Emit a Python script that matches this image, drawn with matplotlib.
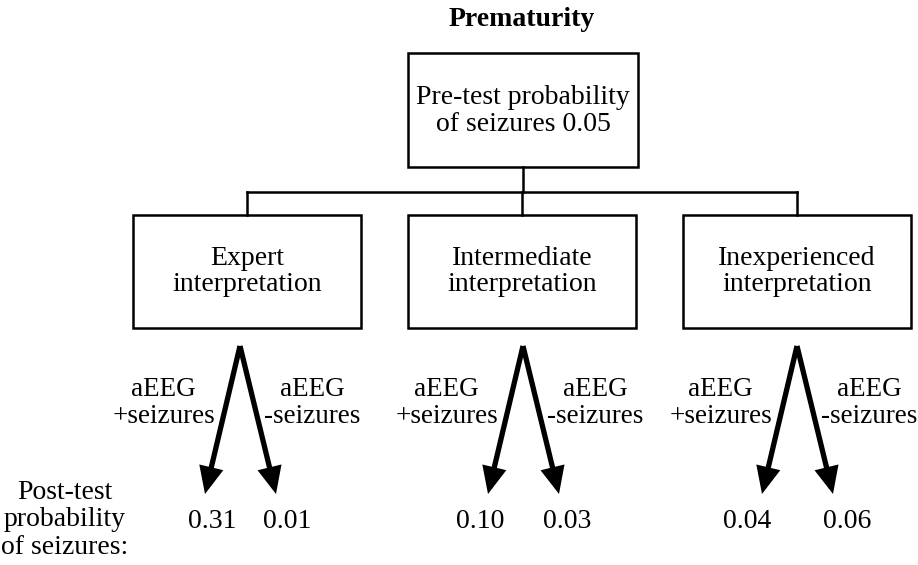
import matplotlib
matplotlib.use("Agg")
import matplotlib.pyplot as plt
from matplotlib.patches import Rectangle, FancyArrowPatch

# ---- data ----
title = "Prematurity"
pretest_label = "Pre-test probability\nof seizures"
pretest_prob = 0.05
levels = ["Expert\ninterpretation", "Intermediate\ninterpretation", "Inexperienced\ninterpretation"]
pos_label = "aEEG\n+seizures"
neg_label = "aEEG\n-seizures"
post_pos = [0.31, 0.10, 0.04]
post_neg = [0.01, 0.03, 0.06]
post_label = "Post-test\nprobability\nof seizures:"

# ---- layout (pixels) ----
W, H = 918, 565
box_cx = [247, 522, 797]
apex_x = [240, 523, 797]
val_off_pos = [-28, -43, -50]
val_off_neg = [47, 44, 50]

fig = plt.figure(figsize=(W / 100, H / 100), dpi=100)
ax = fig.add_axes([0, 0, 1, 1])
ax.set_xlim(0, W)
ax.set_ylim(H, 0)
ax.axis("off")

FONT = "Liberation Serif"
fs = 20
fs_lab = 19.5
lw = 1.8

ax.text(522, 19, title, ha="center", va="center", fontsize=fs, fontweight="bold", family=FONT)

# top box
top_cx, top_w, top_y0, top_y1 = 523, 230, 53, 167
ax.add_patch(Rectangle((top_cx - top_w / 2, top_y0), top_w, top_y1 - top_y0, fill=False, lw=lw, ec="black"))
ax.text(top_cx, (top_y0 + top_y1) / 2 + 1, f"{pretest_label} {pretest_prob:.2f}", ha="center", va="center",
        fontsize=fs, family=FONT, linespacing=1.1)

# connectors
box_w, box_y0, box_y1 = 228, 215, 328
hy = 192
ax.plot([top_cx, top_cx], [top_y1, hy], color="black", lw=lw)
ax.plot([box_cx[0], box_cx[-1]], [hy, hy], color="black", lw=lw)
for cx in box_cx:
    ax.plot([cx, cx], [hy, box_y0], color="black", lw=lw)

for i, (cx, lab) in enumerate(zip(box_cx, levels)):
    ax.add_patch(Rectangle((cx - box_w / 2, box_y0), box_w, box_y1 - box_y0, fill=False, lw=lw, ec="black"))
    ax.text(cx, (box_y0 + box_y1) / 2, lab, ha="center", va="center", fontsize=fs, family=FONT,
            linespacing=1.1)
    ax_x = apex_x[i]
    apex_y = 346
    lt = (ax_x - 35, 494)
    rt = (ax_x + 36, 494)
    for tip in (lt, rt):
        arr = FancyArrowPatch((ax_x, apex_y), tip, arrowstyle="-|>,head_length=0.6,head_width=0.27",
                              mutation_scale=22, lw=3.8, color="black", shrinkA=0, shrinkB=0,
                              joinstyle="miter", capstyle="butt")
        ax.add_patch(arr)
    ax.text(ax_x - 25, 403, pos_label, ha="right", va="center", fontsize=fs_lab, family=FONT,
            linespacing=1.15, multialignment="center")
    ax.text(ax_x + 24, 403, neg_label, ha="left", va="center", fontsize=fs_lab, family=FONT,
            linespacing=1.15, multialignment="center")
    ax.text(ax_x + val_off_pos[i], 521, f"{post_pos[i]:.2f}", ha="center", va="center", fontsize=fs, family=FONT)
    ax.text(ax_x + val_off_neg[i], 521, f"{post_neg[i]:.2f}", ha="center", va="center", fontsize=fs, family=FONT)

ax.text(65, 520, post_label, ha="center", va="center", fontsize=fs, family=FONT, linespacing=1.15)

fig.savefig("out.png", dpi=100)
